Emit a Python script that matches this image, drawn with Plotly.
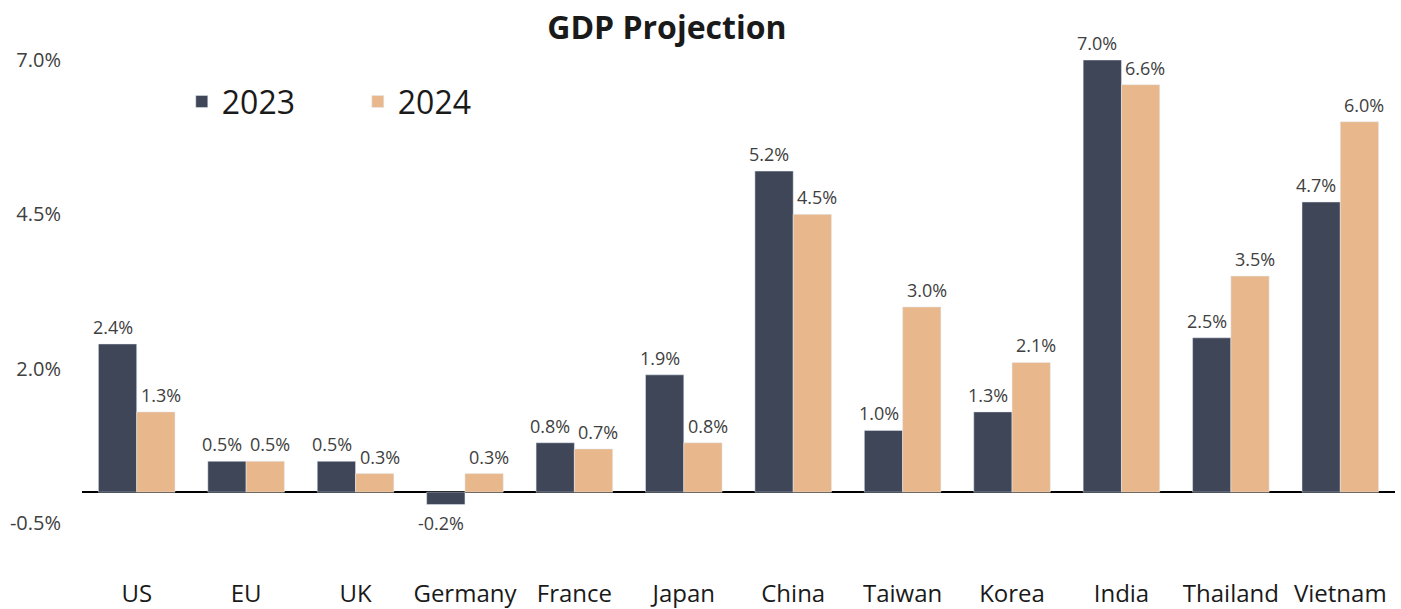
import plotly.graph_objects as go

# GDP growth projections by economy
countries = ["US", "EU", "UK", "Germany", "France", "Japan", "China",
             "Taiwan", "Korea", "India", "Thailand", "Vietnam"]
gdp_2023 = [2.4, 0.5, 0.5, -0.2, 0.8, 1.9, 5.2, 1.0, 1.3, 7.0, 2.5, 4.7]
gdp_2024 = [1.3, 0.5, 0.3, 0.3, 0.7, 0.8, 4.5, 3.0, 2.1, 6.6, 3.5, 6.0]
y_ticks = [-0.5, 2.0, 4.5, 7.0]

FONT = "Open Sans"
TEXT = "#404040"
C2023 = "#3e4657"
C2024 = "#e8b88c"

fig = go.Figure()
fig.add_trace(go.Bar(name="2023", x=countries, y=gdp_2023, marker_color=C2023))
fig.add_trace(go.Bar(name="2024", x=countries, y=gdp_2024, marker_color=C2024))

# value labels, nudged apart so neighbouring labels don't collide
annotations = []
for series, shift in ((gdp_2023, -24), (gdp_2024, 24)):
    for cat, val in zip(countries, series):
        annotations.append(dict(
            x=cat, y=val, xref="x", yref="y",
            text=f"{val:.1f}%", showarrow=False,
            xshift=shift, yshift=3 if val >= 0 else -5,
            yanchor="bottom" if val >= 0 else "top",
            font=dict(family=FONT, size=18, color=TEXT),
        ))

fig.update_layout(
    width=1401, height=609,
    margin=dict(l=82, r=6, t=60, b=86),
    paper_bgcolor="white", plot_bgcolor="white",
    barmode="group", bargap=0.3, bargroupgap=0,
    title=dict(text="<b>GDP Projection</b>", x=0.476, xanchor="center",
               xref="container", y=0.955, yanchor="middle",
               yref="container",
               font=dict(family=FONT, size=32, color="#1a1a1a")),
    legend=dict(orientation="h", x=0.076, y=0.91, xanchor="left", yanchor="middle",
                xref="paper", yref="paper",
                font=dict(family=FONT, size=32, color="#1a1a1a"),
                entrywidth=131, entrywidthmode="pixels",
                bgcolor="rgba(0,0,0,0)"),
    annotations=annotations,
)

fig.update_xaxes(
    showgrid=False, showline=False, zeroline=False,
    tickfont=dict(family=FONT, size=24, color="#1a1a1a"),
    ticks="", ticklabelstandoff=54, automargin=False,
)
fig.update_yaxes(
    range=[-0.5, 7.0], tickvals=y_ticks,
    ticktext=[f"{v:.1f}%" for v in y_ticks],
    showgrid=False, showline=False,
    zeroline=True, zerolinecolor="black", zerolinewidth=2,
    tickfont=dict(family=FONT, size=20, color=TEXT),
    ticks="", ticklabelstandoff=20, automargin=False,
)

fig.write_html("out.html")
